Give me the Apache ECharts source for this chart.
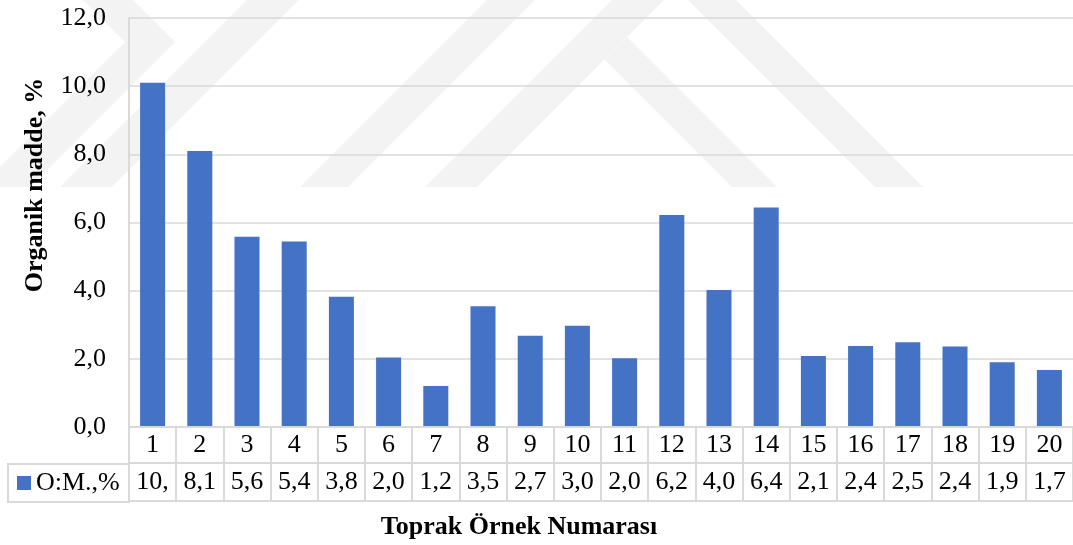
<!DOCTYPE html>
<html>
<head>
<meta charset="utf-8">
<script src="https://cdn.jsdelivr.net/npm/echarts@6/dist/echarts.min.js"></script>
<style>
  html, body { margin: 0; padding: 0; background: #fff; }
  #chart { width: 1073px; height: 545px; }
</style>
</head>
<body>
<div id="chart"></div>
<script>
// Soil sample numbers (categories)
const samples = ['1','2','3','4','5','6','7','8','9','10','11','12','13','14','15','16','17','18','19','20'];
// Organic matter content, %
const organicMatter = [10.1, 8.1, 5.58, 5.44, 3.82, 2.04, 1.2, 3.54, 2.68, 2.97, 2.02, 6.22, 4.02, 6.44, 2.08, 2.38, 2.49, 2.36, 1.9, 1.67];
// Value axis ticks
const yTicks = { min: 0, max: 12, interval: 2 };

const seriesName = 'O:M.,%';
const FONT = '"Liberation Serif", "Times New Roman", serif';
const LINE = '#d9d9d9';
const fmt = v => Number(v).toFixed(1).replace('.', ',');

// faint background emblem made of diagonal stripes
const emblem = [
  [[83,0],[133,0],[175,42],[30,187],[-20,187],[125,42]],
  [[60,187],[112,187],[299,0],[247,0]],
  [[300,187],[348,187],[535,0],[487,0]],
  [[425,187],[477,187],[664,0],[612,0]],
  [[732,187],[777,187],[627,37],[604.5,59.5]],
  [[875,187],[923,187],[736,0],[688,0]]
];

const chart = echarts.init(document.getElementById('chart'), null, { renderer: 'canvas' });

chart.setOption({
  backgroundColor: '#ffffff',
  animation: false,
  grid: { left: 129, top: 18, width: 945, bottom: 118, containLabel: false },
  legend: {
    data: [seriesName],
    left: 17,
    top: 470,
    padding: 0,
    itemWidth: 14,
    itemHeight: 14,
    icon: 'rect',
    selectedMode: false,
    textStyle: { fontFamily: FONT, fontSize: 26, color: '#000', lineHeight: 26 }
  },
  xAxis: [
    {
      type: 'category',
      data: samples,
      position: 'bottom',
      axisLine: { show: true, lineStyle: { color: LINE, width: 2 } },
      axisTick: { show: true, length: 36, lineStyle: { color: LINE, width: 2 } },
      axisLabel: { margin: 18, verticalAlign: 'middle', fontFamily: FONT, fontSize: 26, color: '#000', interval: 0 },
      z: 3
    },
    {
      type: 'category',
      data: organicMatter.map(fmt),
      position: 'bottom',
      offset: 36,
      axisLine: { show: true, lineStyle: { color: LINE, width: 2 } },
      axisTick: { show: true, length: 38, lineStyle: { color: LINE, width: 2 } },
      axisLabel: {
        margin: 19, verticalAlign: 'middle', fontFamily: FONT, fontSize: 26, color: '#000', interval: 0,
        width: 38, overflow: 'truncate', ellipsis: ''
      },
      z: 3
    },
    {
      type: 'category',
      data: samples,
      position: 'bottom',
      offset: 74,
      axisLine: { show: true, lineStyle: { color: LINE, width: 2 } },
      axisTick: { show: false },
      axisLabel: { show: false },
      z: 3
    }
  ],
  yAxis: {
    type: 'value',
    min: yTicks.min,
    max: yTicks.max,
    interval: yTicks.interval,
    axisLine: { show: true, lineStyle: { color: LINE, width: 2 } },
    axisTick: { show: false },
    axisLabel: { margin: 23, fontFamily: FONT, fontSize: 26, color: '#000', formatter: fmt },
    splitLine: { show: true, lineStyle: { color: LINE, width: 1.5 } }
  },
  series: [{
    name: seriesName,
    type: 'bar',
    xAxisIndex: 0,
    data: organicMatter,
    barWidth: '53%',
    itemStyle: { color: '#4472C4' }
  }],
  graphic: [
    ...emblem.map(pts => ({
      type: 'polygon',
      z: -1,
      silent: true,
      shape: { points: pts },
      style: { fill: '#f3f3f3' }
    })),
    // legend key cell of the data table
    {
      type: 'rect',
      z: 2,
      silent: true,
      shape: { x: 8, y: 464, width: 121, height: 38 },
      style: { fill: 'rgba(0,0,0,0)', stroke: LINE, lineWidth: 2 }
    },
    {
      type: 'text',
      silent: true,
      x: 519, y: 527,
      style: {
        text: 'Toprak Örnek Numarası',
        x: 0, y: 0,
        textAlign: 'center', textVerticalAlign: 'middle',
        font: 'bold 26px ' + FONT, fill: '#000'
      }
    },
    {
      type: 'text',
      silent: true,
      x: 35, y: 185,
      rotation: Math.PI / 2,
      style: {
        text: 'Organik madde, %',
        x: 0, y: 0,
        textAlign: 'center', textVerticalAlign: 'middle',
        font: 'bold 26px ' + FONT, fill: '#000'
      }
    }
  ]
});
</script>
</body>
</html>
